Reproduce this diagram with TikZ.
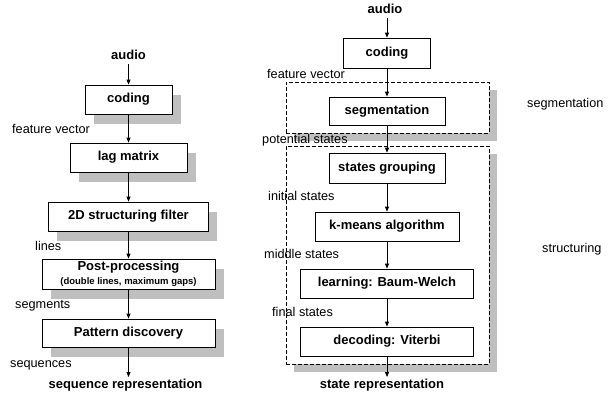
\documentclass[tikz,border=0pt]{standalone}
\usepackage{fontspec}
\setmainfont{Liberation Sans}
\usetikzlibrary{shadows,arrows.meta}
\begin{document}
\begin{tikzpicture}[x=1pt,y=-1pt,
  box/.style={draw, line width=0.8pt, fill=white, inner sep=0pt, align=center,
    font=\fontsize{13}{15}\selectfont\bfseries},
  sbox/.style={box, drop shadow={shadow xshift=8.5pt, shadow yshift=-9.5pt, fill=black!25, opacity=1}},
  grp/.style={draw, dashed, dash pattern=on 4pt off 2pt, line width=0.7pt, fill=white, inner sep=0pt,
    drop shadow={shadow xshift=8pt, shadow yshift=-8pt, fill=black!25, opacity=1}},
  lbl/.style={anchor=west, inner sep=0pt, text height=9pt, text depth=2.5pt,
    font=\fontsize{12.7}{15}\selectfont},
  term/.style={inner sep=1.5pt, text height=9.5pt, text depth=3pt, font=\fontsize{13}{15}\selectfont\bfseries},
  arr/.style={line width=0.8pt, -{Triangle[length=5pt, width=4pt]}}
]
\useasboundingbox (0,0) rectangle (614,392);

% ---------- left column ----------
\node[term] (laud) at (128.5,56) {audio};
\node[sbox, minimum width=87pt, minimum height=29pt] (lcod) at (128.5,99.5) {coding};
\node[sbox, minimum width=117pt, minimum height=29pt] (llag) at (128.5,157.5) {lag matrix};
\node[sbox, minimum width=160pt, minimum height=29pt] (l2d) at (128.5,216.5) {2D structuring filter};
\node[sbox, minimum width=173pt, minimum height=30pt] (lpost) at (128.5,274)
  {Post-processing\\[-1pt]{\fontsize{9.5}{11}\selectfont (double lines, maximum gaps)}};
\node[sbox, minimum width=173pt, minimum height=28pt] (lpat) at (128.5,333) {Pattern discovery};
\node[term] (lseq) at (125.5,385) {sequence representation};

\node[lbl] (lfv) at (12,130) {feature vector};
\node[lbl] (llin) at (35,247) {lines};
\node[lbl] (lsegm) at (15,305) {segments};
\node[lbl] (lsq) at (10,364) {sequences};

\draw[arr] (laud) -- (lcod);
\draw[arr] (lcod) -- (llag);
\draw[arr] (llag) -- (l2d);
\draw[arr] (l2d) -- (lpost);
\draw[arr] (lpost) -- (lpat);
\draw[arr] (lpat.south) -- (lpat.south |- lseq.north);

% ---------- right column ----------
\node[grp, minimum width=203pt, minimum height=51pt] (g1) at (387.5,107.5) {};
\node[grp, minimum width=203pt, minimum height=218pt] (g2) at (387.5,255) {};

\node[term] (raud) at (385,10) {audio};
\node[box, minimum width=87pt, minimum height=30pt] (rcod) at (387,53) {coding};
\node[box, minimum width=116pt, minimum height=28pt] (rseg) at (387,111) {segmentation};
\node[box, minimum width=116pt, minimum height=30pt] (rgrp) at (387,168) {states grouping};
\node[box, minimum width=144pt, minimum height=29pt] (rkm) at (387,226.5) {k-means algorithm};
\node[box, minimum width=173pt, minimum height=29pt] (rlrn) at (387,283.5) {learning: Baum-Welch};
\node[box, minimum width=173pt, minimum height=29pt] (rdec) at (387,341.5) {decoding: Viterbi};
\node[term] (rst) at (382,385) {state representation};

\node[lbl] (rfv) at (267,75) {feature vector};
\node[lbl] (rpot) at (262,140) {potential states};
\node[lbl] (rini) at (268,197) {initial states};
\node[lbl] (rmid) at (264,255) {middle states};
\node[lbl] (rfin) at (272,313) {final states};

\node[lbl] (lsegn) at (527,104) {segmentation};
\node[lbl] (lstru) at (542,249) {structuring};

\draw[arr] (rcod.north |- raud.south) -- (rcod.north);
\draw[arr] (rcod) -- (rseg);
\draw[arr] (rseg) -- (rgrp);
\draw[arr] (rgrp) -- (rkm);
\draw[arr] (rkm) -- (rlrn);
\draw[arr] (rlrn) -- (rdec);
\draw[arr] (rdec.south) -- (rdec.south |- rst.north);
\end{tikzpicture}
\end{document}
